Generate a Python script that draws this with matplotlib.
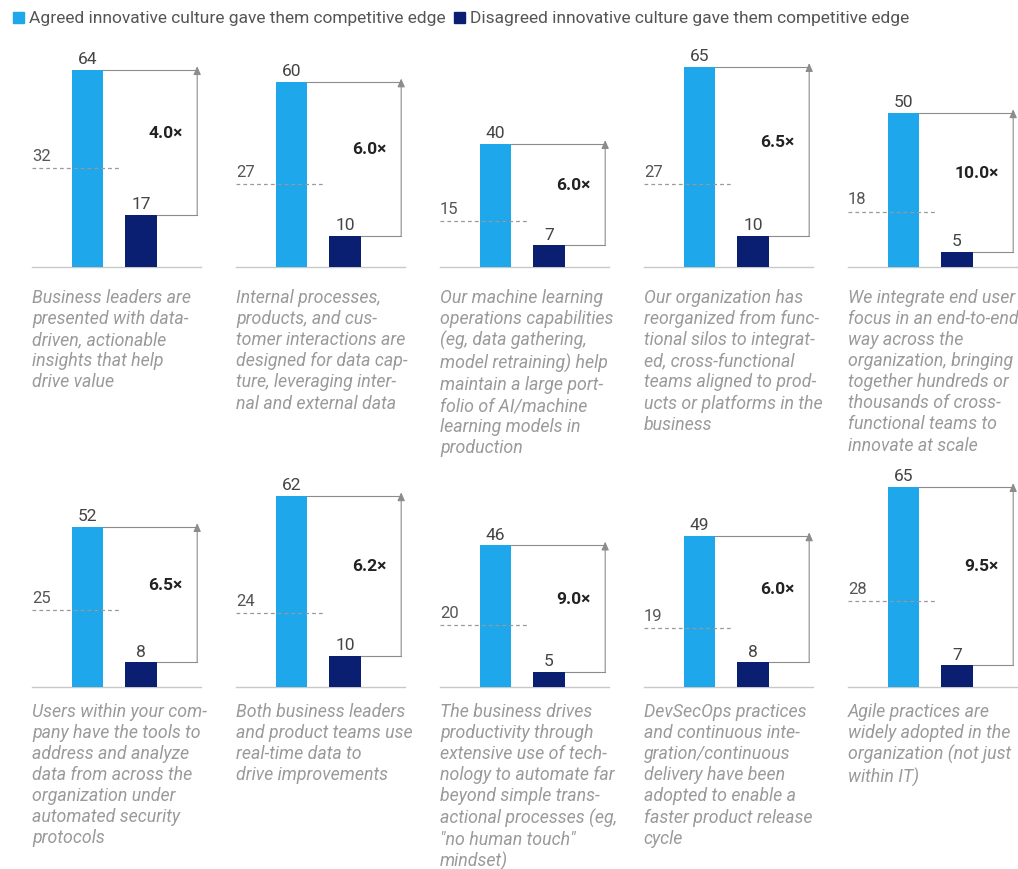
import matplotlib.pyplot as plt
from matplotlib.patches import Patch

plt.rcParams['font.family'] = ['Roboto', 'DejaVu Sans']

# data
agreed = [64, 60, 40, 65, 50, 52, 62, 46, 49, 65]
disagreed = [17, 10, 7, 10, 5, 8, 10, 5, 8, 7]
average = [32, 27, 15, 27, 18, 25, 24, 20, 19, 28]
multiplier = ["4.0×", "6.0×", "6.0×", "6.5×", "10.0×",
              "6.5×", "6.2×", "9.0×", "6.0×", "9.5×"]
captions = [
    "Business leaders are\npresented with data-\ndriven, actionable\ninsights that help\ndrive value",
    "Internal processes,\nproducts, and cus-\ntomer interactions are\ndesigned for data cap-\nture, leveraging inter-\nnal and external data",
    "Our machine learning\noperations capabilities\n(eg, data gathering,\nmodel retraining) help\nmaintain a large port-\nfolio of AI/machine\nlearning models in\nproduction",
    "Our organization has\nreorganized from func-\ntional silos to integrat-\ned, cross-functional\nteams aligned to prod-\nucts or platforms in the\nbusiness",
    "We integrate end user\nfocus in an end-to-end\nway across the\norganization, bringing\ntogether hundreds or\nthousands of cross-\nfunctional teams to\ninnovate at scale",
    "Users within your com-\npany have the tools to\naddress and analyze\ndata from across the\norganization under\nautomated security\nprotocols",
    "Both business leaders\nand product teams use\nreal-time data to\ndrive improvements",
    "The business drives\nproductivity through\nextensive use of tech-\nnology to automate far\nbeyond simple trans-\nactional processes (eg,\n\"no human touch\"\nmindset)",
    "DevSecOps practices\nand continuous inte-\ngration/continuous\ndelivery have been\nadopted to enable a\nfaster product release\ncycle",
    "Agile practices are\nwidely adopted in the\norganization (not just\nwithin IT)",
]

light = '#1ea7ea'
dark = '#0b1f72'
gray = '#8c8c8c'

W, H = 1018, 869
fig = plt.figure(figsize=(W / 100, H / 100), dpi=100)

px_per_unit = 3.08     # vertical pixels per percentage point
px_per_x = 53.5        # pixels between bar centres
baselines = [267, 687]
cap_offset = [-22, -16]

for i in range(10):
    row, col = divmod(i, 5)
    left_px = 30 + 204 * col
    base = baselines[row]
    ax_h = 227
    ax = fig.add_axes([left_px / W, (H - base) / H, 180 / W, ax_h / H])
    xmin = -(87.5 - 30) / px_per_x
    ax.set_xlim(xmin, xmin + 180 / px_per_x)
    ax.set_ylim(0, ax_h / px_per_unit)
    ax.axis('off')

    a, d, m = agreed[i], disagreed[i], average[i]
    ax.bar([0], [a], width=0.58, color=light, zorder=2, clip_on=False)
    ax.bar([1], [d], width=0.6, color=dark, zorder=2, clip_on=False)
    ax.plot([-1.04, 2.12], [0, 0], color='#c8c8c8', lw=1, zorder=1, clip_on=False)

    # average dashed line
    ax.plot([-1.04, 0.62], [m, m], color='#999999', lw=0.9,
            ls=(0, (3, 2.5)), zorder=3, clip_on=False)
    ax.annotate(str(m), xy=(-1.04, m), xytext=(0, 3), textcoords='offset points',
                ha='left', va='bottom', fontsize=12, color='#555555')

    # value labels
    ax.annotate(str(a), xy=(0, a), xytext=(0, 2), textcoords='offset points',
                ha='center', va='bottom', fontsize=12.5, color='#444444')
    ax.annotate(str(d), xy=(1, d), xytext=(0, 2), textcoords='offset points',
                ha='center', va='bottom', fontsize=12.5, color='#444444')

    # bracket with arrow
    xr = 2.05
    ax.plot([0.29, xr], [a, a], color=gray, lw=0.8, clip_on=False)
    ax.plot([1.3, xr], [d, d], color=gray, lw=0.8, clip_on=False)
    ax.annotate('', xy=(xr, a + 1.2), xytext=(xr, d),
                arrowprops=dict(arrowstyle='-|>,head_length=0.5,head_width=0.22',
                                color=gray, lw=0.8, shrinkA=0, shrinkB=0))
    ax.text(1.78, (a + d) / 2 + 3, multiplier[i], ha='right', va='center',
            fontsize=12.5, fontweight='bold', color='#222222')

    # caption
    ax.annotate(captions[i], xy=(-1.04, 0), xytext=(0, cap_offset[row]),
                textcoords='offset pixels', ha='left', va='top',
                fontsize=12.8, fontstyle='italic', color='#9a9a9a',
                linespacing=1.22, annotation_clip=False)

handles = [Patch(color=light), Patch(color=dark)]
fig.legend(handles,
           ['Agreed innovative culture gave them competitive edge',
            'Disagreed innovative culture gave them competitive edge'],
           loc='upper left', bbox_to_anchor=(0.003, 0.999), ncol=2,
           frameon=False, fontsize=12.5, handlelength=0.6, handleheight=0.6,
           handletextpad=0.3, columnspacing=0.5, labelcolor='#555555',
           borderaxespad=0.2)

fig.savefig('out.png', dpi=100)
